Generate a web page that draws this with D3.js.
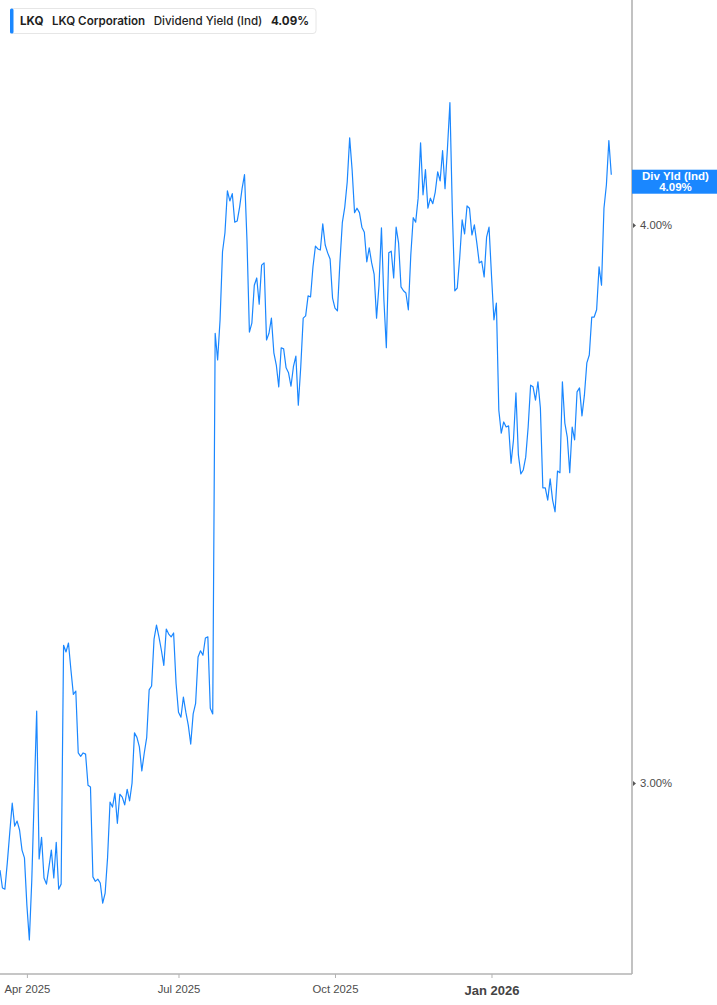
<!DOCTYPE html>
<meta charset='utf-8'>
<style>
  body { margin: 0; background: #fff; font-family: 'Liberation Sans', Arial, sans-serif; }
  #viz svg { display: block; background: #fff; }
  .axisX text { fill: #4d4d4d; font-size: 11.3px; }
  .axisY text { fill: #4d4d4d; font-size: 11.3px; }
  .axisX .domain, .axisY .domain { stroke: #b3b3b3; stroke-width: 1.6; }
  .axisX .tick line { stroke: #b3b3b3; }
  .legend text { font-family: Inter, 'Noto Sans', sans-serif; font-size: 11.6px; fill: #1f1f1f; }
</style>
<body>
<div id='viz'></div>
<script src='https://d3js.org/d3.v7.min.js'></script>
<script>

// Daily dividend yield (%), one value per trading day, mid-Mar 2025 to mid-Mar 2026
var yieldValues = [
  2.844, 2.812, 2.810, 2.858, 2.912, 2.964, 2.923, 2.932, 2.916, 2.880,
  2.866, 2.781, 2.719, 2.826, 2.978, 3.129, 2.864, 2.903, 2.830, 2.819,
  2.849, 2.880, 2.830, 2.894, 2.810, 2.819, 3.247, 3.235, 3.251, 3.203,
  3.159, 3.165, 3.054, 3.048, 3.054, 3.052, 2.996, 2.993, 2.832, 2.824,
  2.828, 2.821, 2.785, 2.803, 2.867, 2.966, 2.957, 2.982, 2.928, 2.980,
  2.975, 2.961, 2.989, 2.968, 3.000, 3.090, 3.082, 3.065, 3.022, 3.054,
  3.082, 3.167, 3.174, 3.258, 3.283, 3.262, 3.238, 3.211, 3.276, 3.267,
  3.262, 3.269, 3.179, 3.127, 3.118, 3.154, 3.127, 3.104, 3.070, 3.124,
  3.143, 3.226, 3.237, 3.229, 3.260, 3.262, 3.134, 3.124, 3.806, 3.758,
  3.830, 3.952, 3.986, 4.061, 4.043, 4.056, 4.005, 4.007, 4.032, 4.065,
  4.090, 3.973, 3.808, 3.824, 3.892, 3.905, 3.858, 3.928, 3.932, 3.794,
  3.806, 3.833, 3.771, 3.749, 3.710, 3.780, 3.778, 3.744, 3.735, 3.711,
  3.746, 3.765, 3.677, 3.746, 3.833, 3.837, 3.873, 3.871, 3.925, 3.962,
  3.957, 3.955, 4.002, 3.964, 3.950, 3.939, 3.869, 3.851, 3.846, 3.932,
  4.004, 4.032, 4.077, 4.156, 4.099, 4.022, 4.030, 4.022, 3.996, 3.987,
  3.934, 3.959, 3.932, 3.912, 3.833, 3.892, 3.995, 3.866, 3.780, 3.950,
  3.953, 3.905, 3.996, 3.968, 3.889, 3.882, 3.878, 3.848, 3.946, 4.013,
  4.005, 4.048, 4.147, 4.054, 4.099, 4.030, 4.048, 4.038, 4.059, 4.095,
  4.079, 4.133, 4.065, 4.138, 4.219, 4.023, 3.882, 3.887, 3.941, 4.009,
  3.984, 4.034, 4.030, 3.982, 4.000, 3.968, 3.932, 3.935, 3.907, 3.978,
  3.996, 3.910, 3.830, 3.860, 3.668, 3.627, 3.647, 3.638, 3.640, 3.573,
  3.615, 3.699, 3.588, 3.554, 3.561, 3.584, 3.638, 3.713, 3.710, 3.686,
  3.719, 3.672, 3.529, 3.529, 3.507, 3.545, 3.507, 3.486, 3.559, 3.556,
  3.719, 3.645, 3.620, 3.556, 3.638, 3.615, 3.701, 3.708, 3.658, 3.695,
  3.753, 3.767, 3.835, 3.835, 3.848, 3.925, 3.892, 4.030, 4.072, 4.151,
  4.090
];

// Trading-day positions of the month ticks and their labels
var tickIndex  = [11, 73, 137, 201];
var tickLabels = ['Apr 2025', 'Jul 2025', 'Oct 2025', 'Jan 2026'];

// Y axis ticks
var yTicks = [3.0, 4.0];

var lastYield = yieldValues[yieldValues.length - 1];

var totalW = 717, totalH = 1005;
var plotRight = 632, plotBottom = 974;

var x = d3.scaleLinear().domain([0, yieldValues.length - 1]).range([0, 611.3]);
var y = d3.scaleLinear().domain([2.658, 4.403]).range([plotBottom, 0]);

var svg = d3.select('#viz').append('svg')
    .attr('width', totalW)
    .attr('height', totalH);

svg.append('clipPath').attr('id', 'plotClip')
  .append('rect')
    .attr('x', 0).attr('y', 0)
    .attr('width', plotRight).attr('height', plotBottom);

// Line
var line = d3.line()
    .x(function(d, i) { return x(i); })
    .y(function(d) { return y(d); });

svg.append('path')
    .datum(yieldValues)
    .attr('clip-path', 'url(#plotClip)')
    .attr('fill', 'none')
    .attr('stroke', '#1a87ff')
    .attr('stroke-width', 1.2)
    .attr('stroke-linejoin', 'round')
    .attr('d', line);

// Bottom axis
var xAxis = svg.append('g')
    .attr('class', 'axisX')
    .attr('transform', 'translate(0,' + plotBottom + ')')
    .call(d3.axisBottom(x)
      .tickValues(tickIndex)
      .tickSize(4)
      .tickSizeOuter(0)
      .tickPadding(5)
      .tickFormat(function(d, i) { return tickLabels[i]; }));

xAxis.select('.domain').attr('d', 'M0,0H' + plotRight);
xAxis.selectAll('.tick text')
    .attr('dy', '0.9em')
    .filter(function(d, i) { return tickLabels[i] === 'Jan 2026'; })
    .style('font-weight', 'bold')
    .style('font-size', '13px')
    .style('fill', '#444');

// Right axis
var yAxis = svg.append('g')
    .attr('class', 'axisY')
    .attr('transform', 'translate(' + plotRight + ',0)')
    .call(d3.axisRight(y)
      .tickValues(yTicks)
      .tickSize(0)
      .tickPadding(8)
      .tickFormat(function(d) { return d3.format('.2f')(d) + '%'; }));

yAxis.select('.domain').attr('d', 'M0,0V' + plotBottom);
yAxis.selectAll('.tick').append('path')
    .attr('d', 'M1,-2.5L4,0L1,2.5Z')
    .attr('fill', '#555');

// Last value label on the right axis
var tag = svg.append('g')
    .attr('transform', 'translate(' + plotRight + ',' + (y(lastYield) + 7) + ')');

tag.append('rect')
    .attr('x', 0).attr('y', -12)
    .attr('width', totalW - plotRight).attr('height', 24)
    .attr('fill', '#1a87ff');

tag.append('text')
    .attr('x', (totalW - plotRight) / 2 + 1).attr('y', -1.5)
    .attr('text-anchor', 'middle')
    .attr('fill', '#fff')
    .attr('font-size', 11.5)
    .attr('font-weight', 'bold')
    .text('Div Yld (Ind)');

tag.append('text')
    .attr('x', (totalW - plotRight) / 2 + 1).attr('y', 9)
    .attr('text-anchor', 'middle')
    .attr('fill', '#fff')
    .attr('font-size', 11.5)
    .attr('font-weight', 'bold')
    .text(d3.format('.2f')(lastYield) + '%');

// Legend box
var legend = svg.append('g').attr('class', 'legend');

var legendBox = legend.append('rect')
    .attr('x', 10.5).attr('y', 8.5)
    .attr('height', 25)
    .attr('rx', 3)
    .attr('fill', '#fff')
    .attr('stroke', '#e6e6e6');

legend.append('rect')
    .attr('x', 10).attr('y', 8.5)
    .attr('width', 3.5).attr('height', 25)
    .attr('rx', 1.5)
    .attr('fill', '#1a87ff');

var legendItems = [
  {text: 'LKQ', weight: 700},
  {text: 'LKQ Corporation', weight: 600},
  {text: 'Dividend Yield (Ind)', weight: 500},
  {text: d3.format('.2f')(lastYield) + '%', weight: 700}
];

var legendText = legend.selectAll('text.item')
    .data(legendItems)
  .enter().append('text')
    .attr('class', 'item')
    .attr('y', 25)
    .attr('font-weight', function(d) { return d.weight; })
    .text(function(d) { return d.text; });

// Chain the legend texts one after another
var cursor = 20;
legendText.each(function() {
  d3.select(this).attr('x', cursor);
  cursor += this.getComputedTextLength() + 8.5;
});
legendBox.attr('width', cursor - 8.5 + 7 - 10.5);

</script>
</body>
